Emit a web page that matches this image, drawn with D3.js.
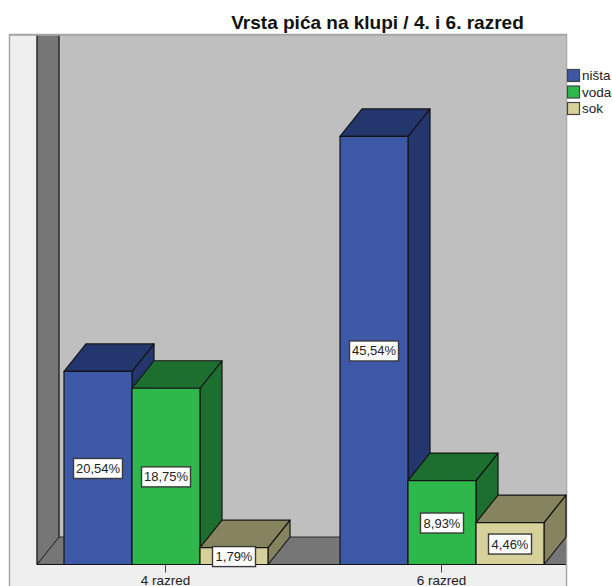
<!DOCTYPE html>
<html><head><meta charset="utf-8">
<script src="https://cdn.jsdelivr.net/npm/d3@7"></script>
<style>html,body{margin:0;padding:0;background:#fff;overflow:hidden}svg{display:block}text{font-family:"Liberation Sans",Arial,sans-serif}</style>
</head><body><svg id="c" width="612" height="586"></svg>
<script>
const chartTitle = "Vrsta pića na klupi / 4. i 6. razred";
const categories = ["4 razred", "6 razred"];
const seriesNames = ["ništa", "voda", "sok"];
const nista = [20.54, 45.54];
const voda = [18.75, 8.93];
const sok = [1.79, 4.46];
const seriesValues = [nista, voda, sok];
const frontColors = ["#3e58a8", "#2eb84c", "#d6d09b"];
const topColors = ["#24366e", "#1d6f2f", "#86845f"];
const sideColors = ["#24366e", "#1d6f2f", "#86845f"];

const svg = d3.select("#c");
const left = 10, wallX = 37, right = 566, frameTop = 35, baseY = 564.5, H = 586;
const depthX = 22, depthY = 27.5;
const ink = "#141414";

const x0 = d3.scaleBand().domain(categories).range([28, 580]);
const x1 = d3.scaleBand().domain(seriesNames).range([-102, 102]);
const y = d3.scaleLinear().domain([0, 50]).range([baseY, baseY - 470]);
const poly = pts => pts.map(p => p.join(",")).join(" ");

// Panel and walls
svg.append("rect").attr("x", left - .5).attr("y", frameTop - .5).attr("width", right - left + 1).attr("height", H - frameTop + 2)
  .attr("fill", "#efefef").attr("stroke", "#a6a6a6").attr("stroke-width", 1.5);
svg.append("rect").attr("x", wallX + depthX).attr("y", frameTop).attr("width", right - wallX - depthX).attr("height", baseY - depthY - frameTop)
  .attr("fill", "#bfbfbf");
svg.append("polygon").attr("points", poly([[wallX, frameTop], [wallX + depthX, frameTop], [wallX + depthX, baseY - depthY], [wallX, baseY]]))
  .attr("fill", "#767676");
svg.append("polygon").attr("points", poly([[wallX, baseY], [wallX + depthX, baseY - depthY], [right, baseY - depthY], [right, baseY]]))
  .attr("fill", "#767676");
svg.append("line").attr("x1", wallX).attr("x2", wallX).attr("y1", frameTop).attr("y2", baseY).attr("stroke", "#2b2b2b").attr("stroke-width", 1.5);
svg.append("line").attr("x1", wallX + depthX).attr("x2", wallX + depthX).attr("y1", frameTop).attr("y2", baseY - depthY).attr("stroke", "#2b2b2b").attr("stroke-width", 1.5);
svg.append("line").attr("x1", wallX).attr("x2", wallX + depthX).attr("y1", baseY).attr("y2", baseY - depthY).attr("stroke", ink);
svg.append("line").attr("x1", wallX + depthX).attr("x2", right).attr("y1", baseY - depthY).attr("y2", baseY - depthY).attr("stroke", "#2b2b2b");
svg.append("line").attr("x1", left).attr("x2", right).attr("y1", frameTop).attr("y2", frameTop).attr("stroke", "#a6a6a6").attr("stroke-width", 1.5);

// Bars
const bars = [];
categories.forEach((c, ci) => seriesNames.forEach((s, si) => bars.push({c, s, si, v: seriesValues[si][ci]})));
const g = svg.append("g").attr("stroke", ink).attr("stroke-width", 1.2).attr("stroke-linejoin", "round");
bars.forEach(d => {
  const xa = x0(d.c) + x0.bandwidth() / 2 + x1(d.s), xb = xa + x1.bandwidth(), yt = y(d.v);
  g.append("polygon").attr("fill", sideColors[d.si]).attr("points", poly([[xb, yt], [xb + depthX, yt - depthY], [xb + depthX, baseY - depthY], [xb, baseY]]));
  g.append("polygon").attr("fill", topColors[d.si]).attr("points", poly([[xa, yt], [xa + depthX, yt - depthY], [xb + depthX, yt - depthY], [xb, yt]]));
  g.append("rect").attr("fill", frontColors[d.si]).attr("x", xa).attr("y", yt).attr("width", xb - xa).attr("height", baseY - yt);
});

// Axis
const axis = d3.axisBottom(x0).tickSizeOuter(0).tickSize(8).tickPadding(3);
const ax = svg.append("g").attr("transform", `translate(-0.5,${baseY})`).call(axis);
ax.select(".domain").remove();
ax.selectAll("line").attr("stroke", "#444");
ax.selectAll("text").attr("fill", "#222").style("font-size", "13.5px").style("font-family", '"Liberation Sans",Arial,sans-serif');
svg.append("line").attr("x1", wallX).attr("x2", right).attr("y1", baseY).attr("y2", baseY).attr("stroke", ink).attr("stroke-width", 1.2);

// Value labels
const fmt = v => v.toFixed(2).replace(".", ",") + "%";
bars.forEach(d => {
  const cx = x0(d.c) + x0.bandwidth() / 2 + x1(d.s) + x1.bandwidth() / 2;
  const cy = (y(d.v) + baseY) / 2 + .5;
  const w = fmt(d.v).length > 5 ? 49 : 43;
  svg.append("rect").attr("x", cx - w / 2).attr("y", cy - 10).attr("width", w).attr("height", 20)
    .attr("fill", "#fff").attr("stroke", "#3a3a3a").attr("stroke-width", 1.4);
  svg.append("text").attr("x", cx).attr("y", cy + 4.5).attr("text-anchor", "middle")
    .attr("font-size", 13).attr("fill", "#222").text(fmt(d.v));
});

// Title
svg.append("text").attr("x", 377.5).attr("y", 29).attr("text-anchor", "middle")
  .attr("font-size", 19).attr("font-weight", "bold").attr("fill", "#111").text(chartTitle);

// Legend
const legendY = d3.scaleBand().domain(seriesNames).range([68, 117.5]);
seriesNames.forEach((s, i) => {
  svg.append("rect").attr("x", 567.5).attr("y", legendY(s) + 1.5).attr("width", 12).attr("height", 12)
    .attr("fill", frontColors[i]).attr("stroke", "#444").attr("stroke-width", 1.2);
  svg.append("text").attr("x", 582).attr("y", legendY(s) + 12).attr("font-size", 13.5).attr("fill", "#222").text(s);
});
</script></body></html>
